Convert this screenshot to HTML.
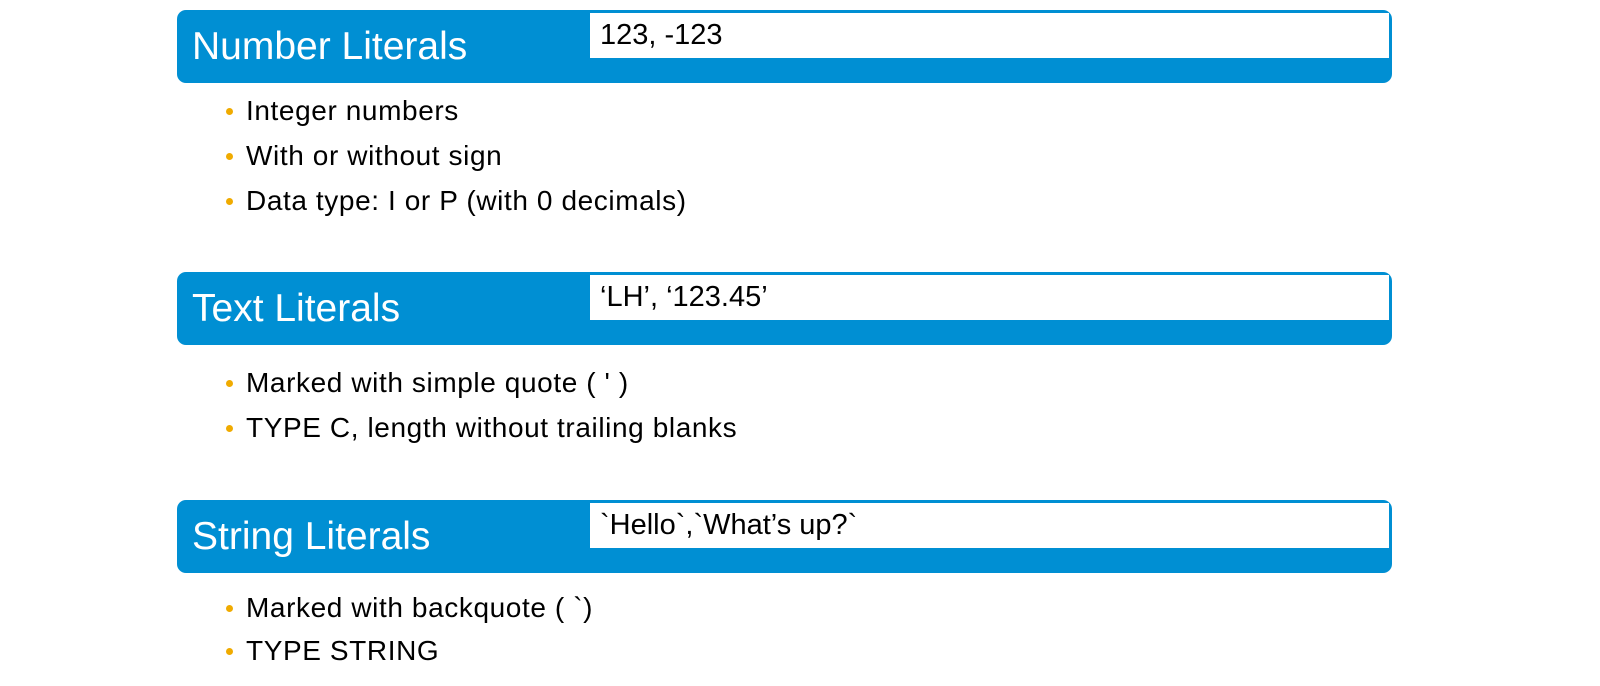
<!DOCTYPE html>
<html><head><style>
body{margin:0;width:1600px;height:686px;background:#fff;position:relative;overflow:hidden;font-family:"Liberation Sans",sans-serif}
.bar{position:absolute;left:177px;width:1215px;height:73px;background:#008fd3;border-radius:9px}
.bar .t{position:absolute;left:15px;top:14px;color:#fff;font-size:39px;line-height:46px}
.bar .w{position:absolute;left:413px;top:3px;width:799px;height:45px;background:#fff}
.bar .w span{position:absolute;left:10px;top:6px;font-size:29px;line-height:32px;color:#000}
.b{position:absolute;left:246px;font-size:28px;line-height:32px;letter-spacing:0.6px;color:#000;white-space:nowrap}
.b:before{content:"";position:absolute;left:-20px;top:13px;width:7px;height:7px;border-radius:50%;background:#f0ab00}
</style></head><body>
<div class="bar" style="top:10px"><div class="t">Number Literals</div><div class="w"><span>123, -123</span></div></div>
<div class="b" style="top:95px">Integer numbers</div>
<div class="b" style="top:140px">With or without sign</div>
<div class="b" style="top:185px">Data type: I or P (with 0 decimals)</div>
<div class="bar" style="top:272px"><div class="t">Text Literals</div><div class="w"><span>‘LH’, ‘123.45’</span></div></div>
<div class="b" style="top:367px">Marked with simple quote ( ' )</div>
<div class="b" style="top:412px">TYPE C, length without trailing blanks</div>
<div class="bar" style="top:500px"><div class="t">String Literals</div><div class="w"><span>`Hello`,`What’s up?`</span></div></div>
<div class="b" style="top:592px">Marked with backquote ( `)</div>
<div class="b" style="top:635px">TYPE STRING</div>
</body></html>
